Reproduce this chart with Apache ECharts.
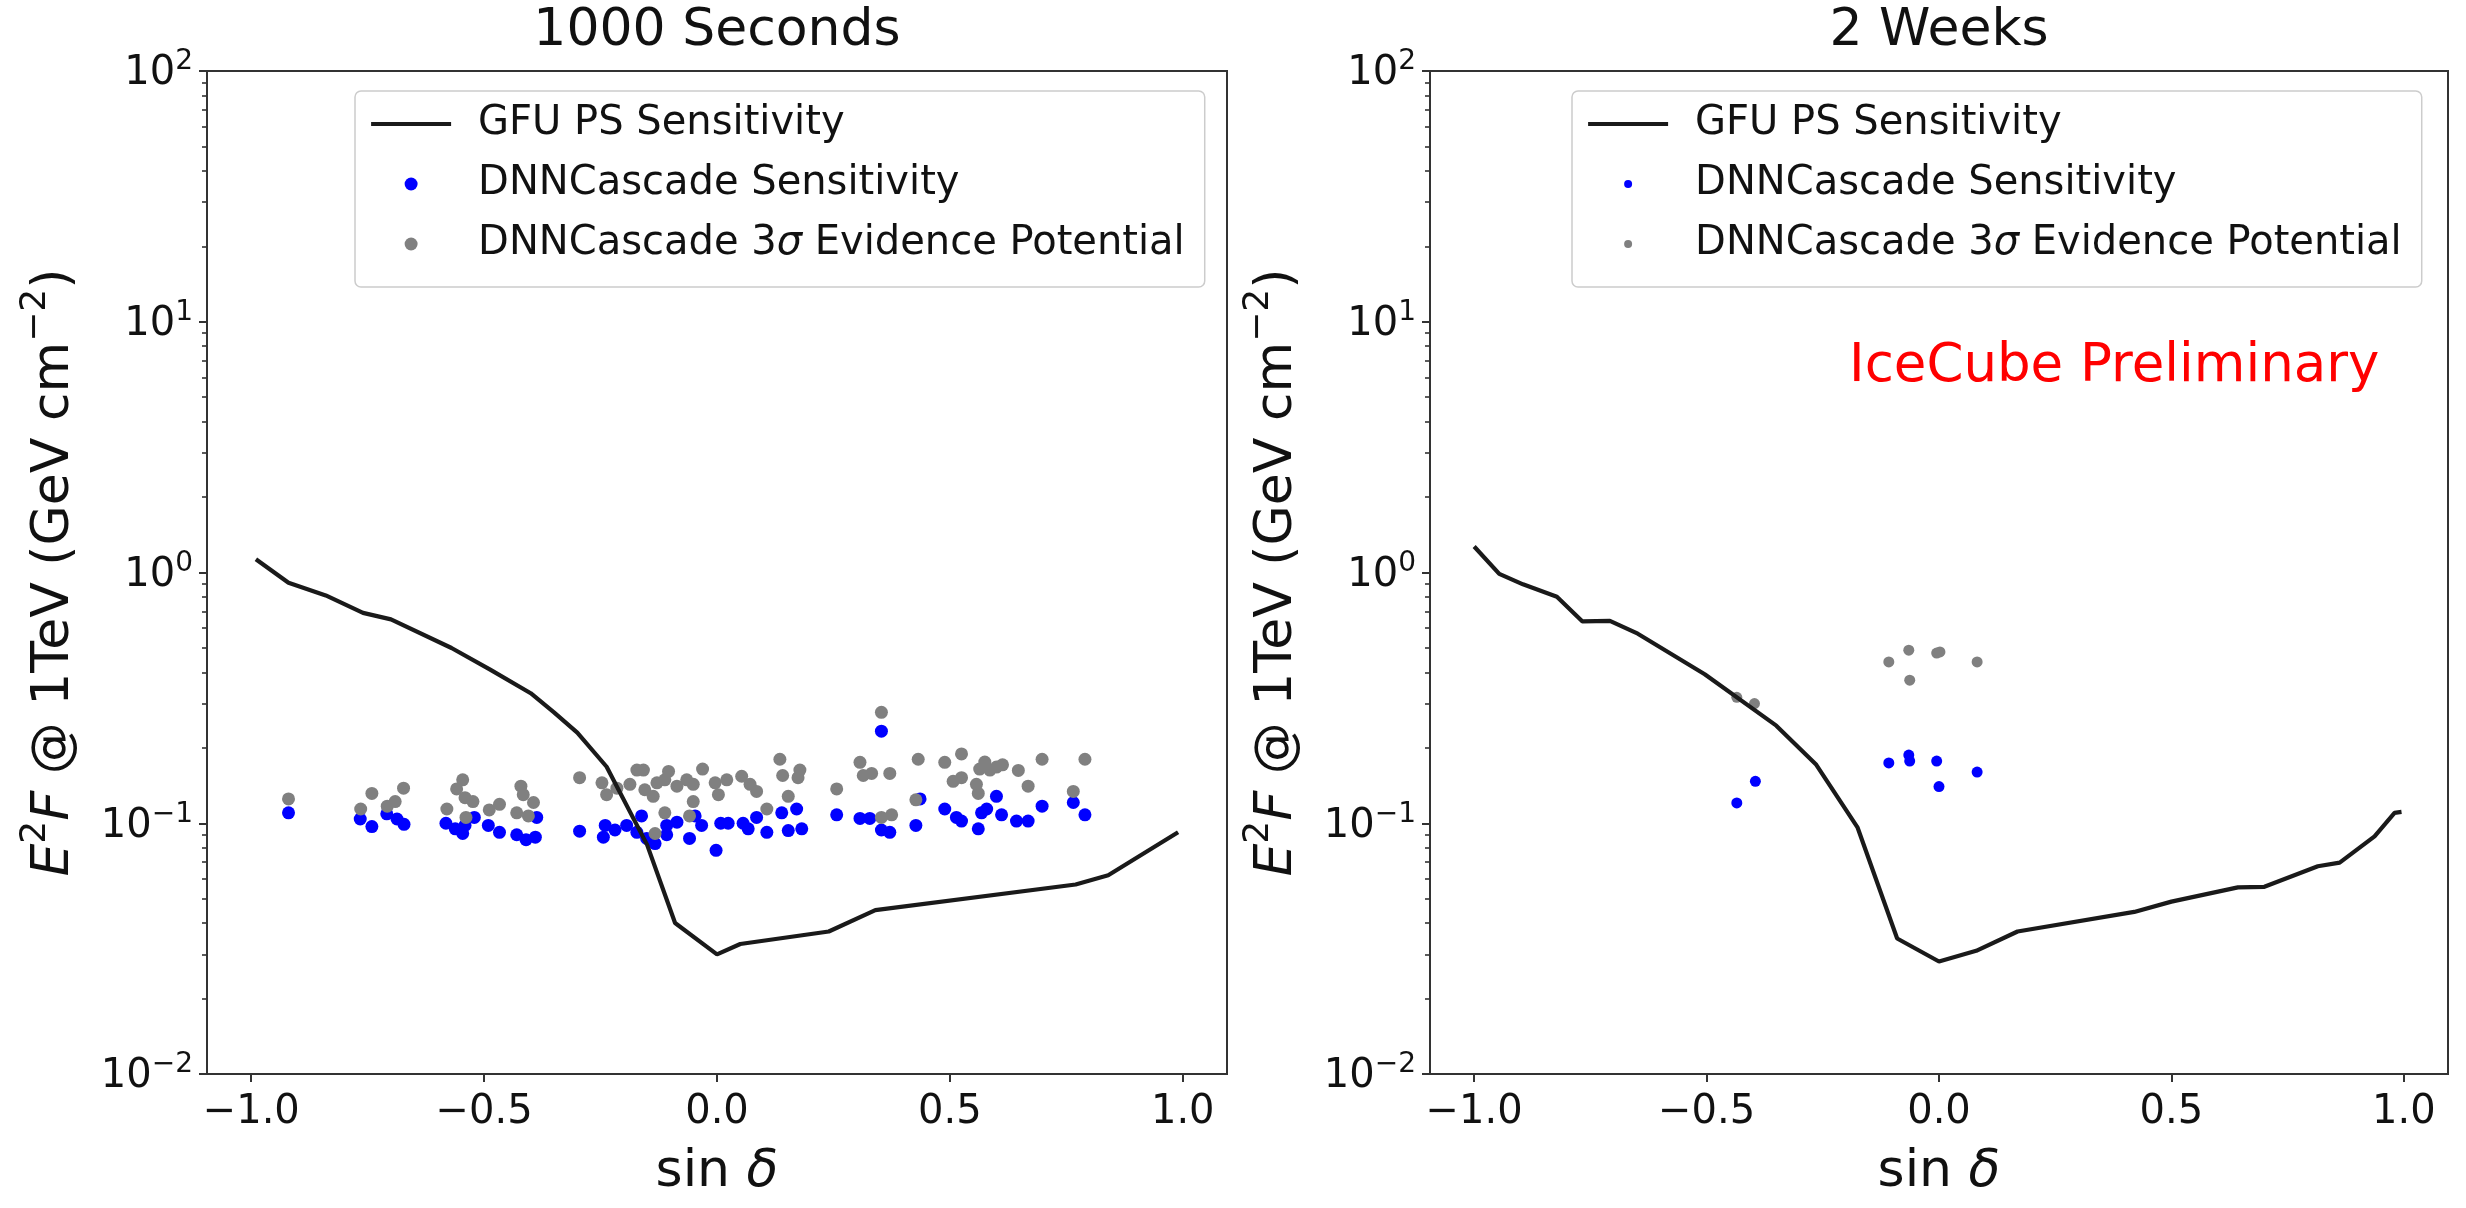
<!DOCTYPE html>
<html><head><meta charset="utf-8">
<script src="https://cdn.jsdelivr.net/npm/echarts@6/dist/echarts.min.js"></script>
<style>html,body{margin:0;padding:0;background:#fff}#c{width:2466px;height:1208px}</style>
</head><body><div id="c"></div>
<script>
// ---------------- data ----------------
const panelTitles = ['1000 Seconds', '2 Weeks'];
const seriesNames = ['GFU PS Sensitivity', 'DNNCascade Sensitivity', 'DNNCascade 3σ Evidence Potential'];
const xTickValues = [-1, -0.5, 0, 0.5, 1];
const yTickValues = [0.01, 0.1, 1, 10, 100];
const yMinorTickValues = [0.02, 0.03, 0.04, 0.05, 0.06, 0.07, 0.08, 0.09,
  0.2, 0.3, 0.4, 0.5, 0.6, 0.7, 0.8, 0.9, 2, 3, 4, 5, 6, 7, 8, 9,
  20, 30, 40, 50, 60, 70, 80, 90];

// 1000 seconds panel: [sin δ, E²F]
const gfu1000s = [[-0.99, 1.13], [-0.92, 0.91], [-0.84, 0.81], [-0.76, 0.69], [-0.70, 0.65],
  [-0.57, 0.50], [-0.487, 0.41], [-0.40, 0.33], [-0.35, 0.277], [-0.30, 0.23], [-0.237, 0.168],
  [-0.15, 0.082], [-0.09, 0.040], [0.0, 0.030], [0.05, 0.033], [0.24, 0.037], [0.34, 0.045],
  [0.77, 0.057], [0.84, 0.062], [0.99, 0.092]];
const dnnSens1000s = [[-0.920, 0.110], [-0.766, 0.104], [-0.741, 0.097], [-0.709, 0.109], [-0.687, 0.104],
  [-0.672, 0.099], [-0.582, 0.100], [-0.562, 0.095], [-0.546, 0.091], [-0.541, 0.098], [-0.521, 0.1055],
  [-0.491, 0.098], [-0.467, 0.092], [-0.430, 0.090], [-0.410, 0.086], [-0.387, 0.1055], [-0.390, 0.088],
  [-0.295, 0.093], [-0.240, 0.098], [-0.244, 0.088], [-0.219, 0.094], [-0.194, 0.098], [-0.172, 0.092],
  [-0.162, 0.107], [-0.151, 0.087], [-0.133, 0.083], [-0.108, 0.098], [-0.086, 0.101], [-0.108, 0.090],
  [-0.059, 0.087], [-0.047, 0.107], [-0.033, 0.098], [-0.002, 0.078], [0.008, 0.100], [0.024, 0.100],
  [0.056, 0.100], [0.067, 0.095], [0.085, 0.1055], [0.107, 0.092], [0.139, 0.110], [0.171, 0.114],
  [0.153, 0.0935], [0.182, 0.095], [0.353, 0.233], [0.257, 0.108], [0.307, 0.1045], [0.328, 0.1045],
  [0.353, 0.094], [0.371, 0.092], [0.427, 0.098], [0.436, 0.125], [0.489, 0.114], [0.514, 0.1055],
  [0.525, 0.102], [0.561, 0.095], [0.568, 0.110], [0.579, 0.114], [0.600, 0.128], [0.611, 0.108],
  [0.643, 0.102], [0.668, 0.102], [0.698, 0.117], [0.765, 0.121], [0.790, 0.108]];
const dnnDisc1000s = [[-0.920, 0.125], [-0.765, 0.114], [-0.741, 0.1315], [-0.708, 0.117], [-0.691, 0.122],
  [-0.673, 0.138], [-0.580, 0.114], [-0.559, 0.137], [-0.546, 0.149], [-0.541, 0.1265], [-0.524, 0.122],
  [-0.539, 0.1055], [-0.489, 0.113], [-0.467, 0.119], [-0.421, 0.1405], [-0.416, 0.130], [-0.394, 0.121],
  [-0.430, 0.110], [-0.405, 0.107], [-0.295, 0.152], [-0.247, 0.145], [-0.237, 0.130], [-0.215, 0.138],
  [-0.172, 0.163], [-0.158, 0.163], [-0.187, 0.143], [-0.155, 0.136], [-0.137, 0.128], [-0.129, 0.145],
  [-0.112, 0.149], [-0.104, 0.161], [-0.086, 0.1405], [-0.065, 0.149], [-0.051, 0.143], [-0.031, 0.1645],
  [-0.051, 0.122], [-0.112, 0.110], [-0.059, 0.107], [-0.133, 0.091], [-0.004, 0.145], [0.003, 0.130],
  [0.021, 0.149], [0.053, 0.154], [0.071, 0.143], [0.085, 0.134], [0.107, 0.114], [0.135, 0.180],
  [0.141, 0.155], [0.178, 0.163], [0.174, 0.152], [0.153, 0.128], [0.353, 0.277], [0.257, 0.137],
  [0.307, 0.175], [0.314, 0.155], [0.332, 0.158], [0.371, 0.158], [0.353, 0.1055], [0.375, 0.108],
  [0.432, 0.180], [0.427, 0.124], [0.489, 0.175], [0.525, 0.189], [0.507, 0.147], [0.525, 0.152],
  [0.557, 0.143], [0.561, 0.1315], [0.564, 0.1645], [0.575, 0.1755], [0.586, 0.163], [0.600, 0.1675],
  [0.613, 0.171], [0.647, 0.1625], [0.668, 0.1405], [0.698, 0.180], [0.765, 0.134], [0.790, 0.180]];

// 2 weeks panel
const gfu2weeks = [[-1.0, 1.27], [-0.946, 0.987], [-0.895, 0.897], [-0.822, 0.80], [-0.767, 0.638],
  [-0.708, 0.641], [-0.648, 0.570], [-0.504, 0.393], [-0.35, 0.245], [-0.265, 0.172], [-0.175, 0.096],
  [-0.09, 0.0347], [0.0, 0.0281], [0.08, 0.031], [0.169, 0.037], [0.42, 0.0443], [0.50, 0.0487],
  [0.643, 0.0555], [0.70, 0.0558], [0.815, 0.0674], [0.862, 0.0697], [0.937, 0.0887], [0.98, 0.110],
  [0.995, 0.111]];
const dnnSens2weeks = [[-0.435, 0.1205], [-0.395, 0.147], [-0.108, 0.174], [-0.065, 0.187],
  [-0.063, 0.177], [-0.005, 0.177], [0.0, 0.140], [0.082, 0.160]];
const dnnDisc2weeks = [[-0.435, 0.318], [-0.397, 0.300], [-0.108, 0.44], [-0.065, 0.49],
  [-0.063, 0.372], [-0.005, 0.477], [0.002, 0.482], [0.082, 0.44]];

// ---------------- chart ----------------
const FONT = 'DejaVu Sans';
const AX = '#333';
const chart = echarts.init(document.getElementById('c'), null, {renderer: 'canvas'});

const grids = [
  {left: 207, top: 71, width: 1020, height: 1017},
  {left: 1430, top: 71, width: 1018, height: 1017}
];

function supFormatter(v) {
  const e = Math.round(Math.log10(v));
  return '{b|10}{s|' + (e < 0 ? '\u2212' + (-e) : String(e)) + '}';
}
function xFormatter(v) {
  return (v < 0 ? '\u2212' : '') + Math.abs(v).toFixed(1);
}

const xAxes = grids.map((g, i) => ({
  type: 'value', gridIndex: i, min: -1.095, max: 1.095,
  axisLine: {show: true, onZero: false, lineStyle: {color: AX, width: 2}},
  axisTick: {show: true, length: 8, customValues: xTickValues, lineStyle: {color: AX, width: 2}},
  axisLabel: {customValues: xTickValues, formatter: xFormatter, fontSize: 40, lineHeight: 44,
    fontFamily: FONT, color: '#111', margin: 17},
  splitLine: {show: false},
  name: '{n|sin }{i|\u03b4}', nameLocation: 'middle', nameGap: 67,
  nameTextStyle: {fontFamily: FONT, color: '#111', fontSize: 52, lineHeight: 62,
    rich: {n: {fontFamily: FONT, fontSize: 52, lineHeight: 62, color: '#111'},
           i: {fontFamily: FONT, fontSize: 52, lineHeight: 62, fontStyle: 'italic', color: '#111'}}}
}));

const yAxes = [];
grids.forEach((g, i) => {
  yAxes.push({
    type: 'log', logBase: 10, gridIndex: i, min: 0.01, max: 100, position: 'left',
    axisLine: {show: true, onZero: false, lineStyle: {color: AX, width: 2}},
    axisTick: {show: true, length: 8, customValues: yTickValues, lineStyle: {color: AX, width: 2}},
    axisLabel: {customValues: yTickValues, formatter: supFormatter, margin: 14, color: '#111',
      rich: {b: {fontFamily: FONT, fontSize: 40, lineHeight: 46, verticalAlign: 'bottom', color: '#111'},
             s: {fontFamily: FONT, fontSize: 28, lineHeight: 28, verticalAlign: 'top', color: '#111'}}},
    splitLine: {show: false},
    name: '{i|E}{s|2}{i|F}{n| @ 1TeV (GeV cm}{s|\u22122}{n|)}',
    nameLocation: 'middle', nameGap: 127, nameRotate: 90,
    nameTextStyle: {fontFamily: FONT, fontSize: 52, color: '#111',
      rich: {n: {fontFamily: FONT, fontSize: 52, lineHeight: 62, verticalAlign: 'bottom', color: '#111'},
             i: {fontFamily: FONT, fontSize: 52, lineHeight: 62, verticalAlign: 'bottom', fontStyle: 'italic', color: '#111'},
             s: {fontFamily: FONT, fontSize: 36, lineHeight: 36, verticalAlign: 'top', color: '#111'}}}
  });
  yAxes.push({
    type: 'log', logBase: 10, gridIndex: i, min: 0.01, max: 100, position: 'left',
    axisLine: {show: false, onZero: false},
    axisTick: {show: true, length: 5, customValues: yMinorTickValues, lineStyle: {color: AX, width: 1.6}},
    axisLabel: {show: false},
    splitLine: {show: false}
  });
});

function legendFor(left, top, dot) {
  return {
    orient: 'vertical', left: left, top: top, selectedMode: false,
    data: [
      {name: seriesNames[0], itemStyle: {opacity: 0}},
      {name: seriesNames[1]},
      {name: seriesNames[2]}
    ],
    itemWidth: 80, itemHeight: dot, itemGap: 10,
    padding: [8, 20, 18, 14],
    borderColor: '#cccccc', borderWidth: 1.5, borderRadius: 6, backgroundColor: '#ffffff',
    lineStyle: {width: 4.2, color: '#1a1a1a'},
    formatter: n => n.replace('3\u03c3', '3{i|\u03c3}'),
    textStyle: {fontFamily: FONT, fontSize: 40, lineHeight: 50, color: '#111', padding: [0, 0, 0, 22],
      rich: {i: {fontFamily: FONT, fontSize: 40, lineHeight: 50, fontStyle: 'italic', color: '#111'}}}
  };
}

const lineStyle = {color: '#1a1a1a', width: 4.2};
const series = [
  {name: seriesNames[0], type: 'line', xAxisIndex: 0, yAxisIndex: 0, data: gfu1000s,
    symbol: 'none', showSymbol: false, lineStyle: lineStyle, z: 5},
  {name: seriesNames[1], type: 'scatter', xAxisIndex: 0, yAxisIndex: 0, data: dnnSens1000s,
    symbol: 'circle', symbolSize: 13, itemStyle: {color: '#0000ff', opacity: 1}, z: 2},
  {name: seriesNames[2], type: 'scatter', xAxisIndex: 0, yAxisIndex: 0, data: dnnDisc1000s,
    symbol: 'circle', symbolSize: 13, itemStyle: {color: '#808080', opacity: 1}, z: 3},
  {name: seriesNames[0], type: 'line', xAxisIndex: 1, yAxisIndex: 2, data: gfu2weeks,
    symbol: 'none', showSymbol: false, lineStyle: lineStyle, z: 5},
  {name: seriesNames[1], type: 'scatter', xAxisIndex: 1, yAxisIndex: 2, data: dnnSens2weeks,
    symbol: 'circle', symbolSize: 11, itemStyle: {color: '#0000ff', opacity: 1}, z: 2},
  {name: seriesNames[2], type: 'scatter', xAxisIndex: 1, yAxisIndex: 2, data: dnnDisc2weeks,
    symbol: 'circle', symbolSize: 11, itemStyle: {color: '#808080', opacity: 1}, z: 3}
];

const option = {
  backgroundColor: '#ffffff',
  animation: false,
  textStyle: {fontFamily: FONT},
  title: [
    {text: panelTitles[0], left: 717, top: 5, padding: 0, textAlign: 'center',
      textStyle: {fontFamily: FONT, fontSize: 52, fontWeight: 'normal', color: '#111'}},
    {text: panelTitles[1], left: 1939, top: 5, padding: 0, textAlign: 'center',
      textStyle: {fontFamily: FONT, fontSize: 52, fontWeight: 'normal', color: '#111'}},
    {text: 'IceCube Preliminary', left: 1849, top: 341, padding: 0,
      textStyle: {fontFamily: FONT, fontSize: 53, fontWeight: 'normal', color: '#ff0000'}}
  ],
  grid: grids.map(g => Object.assign({show: true, borderColor: AX, borderWidth: 2,
    backgroundColor: 'transparent', containLabel: false}, g)),
  xAxis: xAxes,
  yAxis: yAxes,
  legend: [legendFor(355, 91, 13), legendFor(1572, 91, 8)],
  series: series
};
chart.setOption(option);
</script>
</body></html>
